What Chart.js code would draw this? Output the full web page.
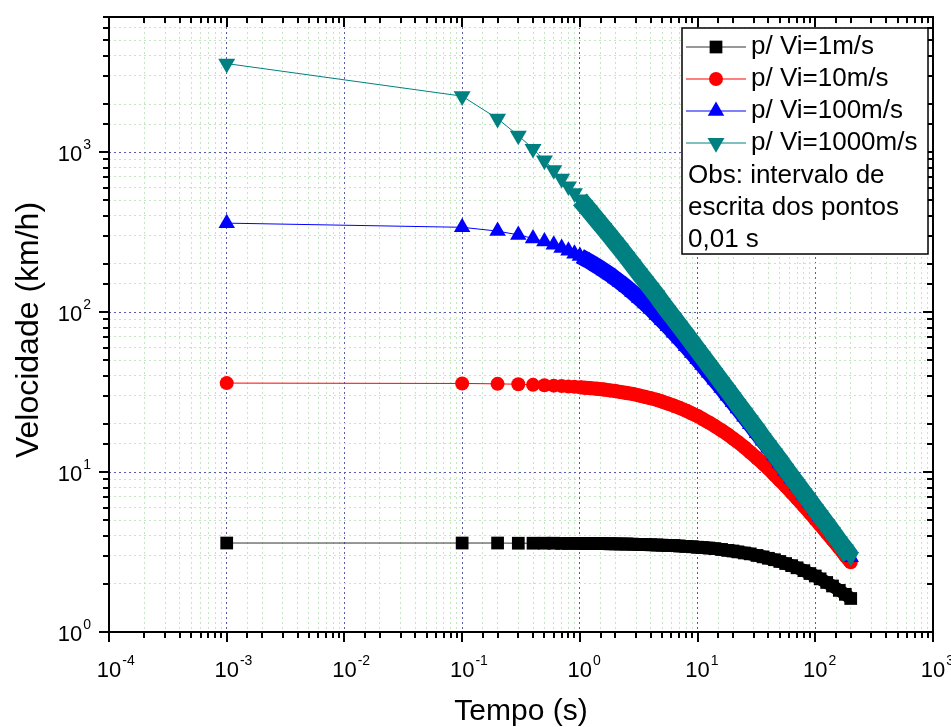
<!DOCTYPE html>
<html>
<head>
<meta charset="utf-8">
<script src="https://cdn.jsdelivr.net/npm/chart.js@4"></script>
<style>
  html, body { margin: 0; padding: 0; background: #fff; }
  #wrap { width: 951px; height: 727px; }
</style>
</head>
<body>
<div id="wrap"><canvas id="grafico" width="951" height="727"></canvas></div>
<script>
// Tempos (s) dos pontos marcados
const tempos = [0.001, 0.1, 0.2, 0.3, 0.4, 0.5, 0.6, 0.7, 0.8, 0.9,
    1, 1.1, 1.2, 1.4, 1.6, 1.8, 2, 2.2, 2.5, 2.8,
    3.2, 3.6, 4, 4.5, 5, 5.6, 6.3, 7, 8, 9,
    10, 11, 12.5, 14, 16, 18, 20, 22, 25, 28,
    32, 36, 40, 45, 50, 56, 63, 70, 80, 90,
    100, 110, 125, 140, 160, 180, 200];

// Velocidades (km/h)
const vel1 = [3.60, 3.60, 3.60, 3.59, 3.59, 3.59, 3.59, 3.58, 3.58, 3.58,
    3.58, 3.58, 3.57, 3.57, 3.57, 3.56, 3.56, 3.55, 3.55, 3.54,
    3.53, 3.52, 3.51, 3.50, 3.49, 3.48, 3.47, 3.45, 3.43, 3.41,
    3.39, 3.37, 3.35, 3.32, 3.28, 3.24, 3.21, 3.17, 3.12, 3.08,
    3.01, 2.95, 2.89, 2.83, 2.76, 2.68, 2.60, 2.52, 2.42, 2.32,
    2.24, 2.15, 2.04, 1.94, 1.82, 1.72, 1.62];
const vel10 = [36.0, 35.8, 35.6, 35.4, 35.1, 34.9, 34.7, 34.5, 34.3, 34.1,
    33.9, 33.7, 33.5, 33.2, 32.8, 32.4, 32.1, 31.7, 31.2, 30.8,
    30.1, 29.5, 28.9, 28.3, 27.6, 26.8, 26.0, 25.2, 24.2, 23.2,
    22.4, 21.5, 20.4, 19.4, 18.2, 17.2, 16.2, 15.4, 14.3, 13.3,
    12.2, 11.3, 10.5, 9.61, 8.89, 8.15, 7.43, 6.83, 6.12, 5.55,
    5.07, 4.67, 4.17, 3.77, 3.35, 3.00, 2.73];
const vel100 = [360, 339, 321, 304, 289, 276, 264, 252, 242, 232,
    224, 215, 208, 194, 182, 172, 162, 154, 143, 133,
    122, 113, 105, 96.1, 88.9, 81.5, 74.3, 68.3, 61.2, 55.5,
    50.7, 46.7, 41.7, 37.7, 33.5, 30.0, 27.3, 25.0, 22.2, 19.9,
    17.5, 15.7, 14.2, 12.7, 11.4, 10.2, 9.13, 8.24, 7.23, 6.44,
    5.81, 5.29, 4.66, 4.17, 3.65, 3.25, 2.93];
const vel1000 = [3580, 2240, 1620, 1270, 1050, 889, 773, 683, 612, 555,
    507, 467, 433, 377, 335, 301, 273, 250, 222, 199,
    175, 157, 142, 127, 114, 102, 91.3, 82.4, 72.3, 64.4,
    58.1, 52.9, 46.6, 41.7, 36.5, 32.5, 29.3, 26.6, 23.5, 21.0,
    18.4, 16.3, 14.7, 13.1, 11.8, 10.5, 9.34, 8.41, 7.36, 6.55,
    5.89, 5.36, 4.72, 4.21, 3.68, 3.28, 2.95];

const legendas = ['p/ Vi=1m/s', 'p/ Vi=10m/s', 'p/ Vi=100m/s', 'p/ Vi=1000m/s'];
const obsLinhas = ['Obs: intervalo de', 'escrita dos pontos', '0,01 s'];
const xLimites = [1e-4, 1e3];
const yLimites = [1, 7000];

const FONTE = '"Liberation Sans", Arial, sans-serif';

// a partir de 1 s os marcadores (a cada 0,01 s) se sobrepoem formando uma faixa
const series = [
    { dados: vel1, cor: '#000000', linha: '#333333', estilo: 'rect', raio: 9, rot: 0, faixa: 13 },
    { dados: vel10, cor: '#ff0000', linha: '#ff0000', estilo: 'circle', raio: 7, rot: 0, faixa: 14 },
    { dados: vel100, cor: '#0000ff', linha: '#0000ff', estilo: 'triangle', raio: 9.5, rot: 0, faixa: 16 },
    { dados: vel1000, cor: '#008080', linha: '#008080', estilo: 'triangle', raio: 9.8, rot: 180, faixa: 18 }
];

function ehDecada(v) {
    const l = Math.log10(v);
    return Math.abs(l - Math.round(l)) < 1e-6;
}

function desenhaMarcador(ctx, estilo, raio, rot, x, y, cor) {
    ctx.save();
    ctx.fillStyle = cor;
    ctx.beginPath();
    if (estilo === 'circle') {
        ctx.arc(x, y, raio, 0, Math.PI * 2);
    } else if (estilo === 'rect') {
        const s = raio * Math.SQRT1_2;
        ctx.rect(x - s, y - s, 2 * s, 2 * s);
    } else {
        let rad = rot * Math.PI / 180;
        for (let i = 0; i < 3; i++) {
            const px = x + Math.sin(rad) * raio;
            const py = y - Math.cos(rad) * raio;
            if (i === 0) ctx.moveTo(px, py); else ctx.lineTo(px, py);
            rad += 2 * Math.PI / 3;
        }
        ctx.closePath();
    }
    ctx.fill();
    ctx.restore();
}

// Moldura, marcas, rotulos 10^n, titulos e legenda
const molduraPlugin = {
    id: 'moldura',
    afterDraw(chart) {
        const { ctx, chartArea: a } = chart;
        const sx = chart.scales.x, sy = chart.scales.y;
        ctx.save();
        ctx.strokeStyle = '#000';
        ctx.lineWidth = 2;

        const traco = (x1, y1, x2, y2) => {
            ctx.beginPath(); ctx.moveTo(x1, y1); ctx.lineTo(x2, y2); ctx.stroke();
        };

        sx.ticks.forEach(t => {
            const px = Math.round(sx.getPixelForValue(t.value));
            const len = ehDecada(t.value) ? 10 : 6;
            traco(px, a.bottom, px, a.bottom + len);
            traco(px, a.top, px, a.top + len);
        });
        sy.ticks.forEach(t => {
            const py = Math.round(sy.getPixelForValue(t.value));
            const len = ehDecada(t.value) ? 10 : 6;
            traco(a.left - len, py, a.left, py);
            traco(a.right - len, py, a.right, py);
        });
        ctx.strokeRect(a.left, a.top, a.right - a.left, a.bottom - a.top);

        // rotulos do eixo x
        ctx.fillStyle = '#000';
        ctx.textBaseline = 'alphabetic';
        sx.ticks.filter(t => ehDecada(t.value)).forEach(t => {
            const px = sx.getPixelForValue(t.value);
            const ex = String(Math.round(Math.log10(t.value)));
            ctx.font = '22px ' + FONTE;
            ctx.textAlign = 'center';
            ctx.fillText('10', px, a.bottom + 45);
            const w = ctx.measureText('10').width;
            ctx.font = '14px ' + FONTE;
            ctx.textAlign = 'left';
            ctx.fillText(ex, px + w / 2 + 1, a.bottom + 33);
        });

        // rotulos do eixo y
        sy.ticks.filter(t => ehDecada(t.value)).forEach(t => {
            const py = sy.getPixelForValue(t.value);
            const ex = String(Math.round(Math.log10(t.value)));
            ctx.font = '14px ' + FONTE;
            const we = ctx.measureText(ex).width;
            ctx.textAlign = 'left';
            const xr = a.left - 18;
            ctx.fillText(ex, xr - we, py - 3);
            ctx.font = '22px ' + FONTE;
            ctx.textAlign = 'right';
            ctx.fillText('10', xr - we - 1, py + 9);
        });

        // titulos dos eixos
        ctx.textAlign = 'center';
        ctx.textBaseline = 'middle';
        ctx.font = '30px ' + FONTE;
        ctx.fillText('Tempo (s)', (a.left + a.right) / 2, 712);
        ctx.save();
        ctx.font = '32px ' + FONTE;
        ctx.translate(29, 330);
        ctx.rotate(-Math.PI / 2);
        ctx.fillText('Velocidade (km/h)', 0, 0);
        ctx.restore();

        // legenda
        const lx = 682, ly = 28, lw = 246, lh = 226;
        ctx.fillStyle = '#fff';
        ctx.fillRect(lx, ly, lw, lh);
        ctx.lineWidth = 1.5;
        ctx.strokeStyle = '#000';
        ctx.strokeRect(lx, ly, lw, lh);
        ctx.font = '26px ' + FONTE;
        ctx.textAlign = 'left';
        ctx.textBaseline = 'middle';
        series.forEach((s, i) => {
            const yy = 47 + i * 32;
            ctx.strokeStyle = s.linha;
            ctx.lineWidth = 1;
            ctx.beginPath(); ctx.moveTo(686, yy); ctx.lineTo(746, yy); ctx.stroke();
            desenhaMarcador(ctx, s.estilo, s.raio, s.rot, 716, yy, s.cor);
            ctx.fillStyle = '#000';
            ctx.fillText(legendas[i], 751, yy);
        });
        obsLinhas.forEach((t, i) => {
            ctx.fillText(t, 688, 176 + i * 32);
        });
        ctx.restore();
    }
};

const conjuntos = series.map((s, i) => ({
    label: legendas[i],
    data: tempos.map((t, j) => ({ x: t, y: s.dados[j] })),
    borderColor: s.linha,
    borderWidth: 1,
    borderJoinStyle: 'round',
    backgroundColor: s.cor,
    pointBackgroundColor: s.cor,
    pointBorderColor: s.cor,
    pointBorderWidth: 0,
    pointStyle: s.estilo,
    pointRadius: s.raio,
    pointRotation: s.rot,
    order: 3 - i,
    tension: 0,
    segment: {
        borderWidth: c => c.p0.parsed.x >= 1 ? s.faixa : 1,
        borderColor: c => c.p0.parsed.x >= 1 ? s.cor : s.linha
    }
}));

const corGrade = c => (c.tick && ehDecada(c.tick.value)) ? '#5a5aa8' : '#c4e6c4';

new Chart(document.getElementById('grafico'), {
    type: 'line',
    data: { datasets: conjuntos },
    options: {
        responsive: false,
        animation: false,
        events: [],
        layout: { padding: { left: 109, right: 18, top: 17, bottom: 95 } },
        plugins: { legend: { display: false }, tooltip: { enabled: false } },
        scales: {
            x: {
                type: 'logarithmic',
                min: xLimites[0],
                max: xLimites[1],
                ticks: { display: false },
                grid: { color: corGrade, lineWidth: 1, drawTicks: false },
                border: { display: false, dash: [2, 3] }
            },
            y: {
                type: 'logarithmic',
                min: yLimites[0],
                max: yLimites[1],
                ticks: { display: false },
                grid: { color: corGrade, lineWidth: 1, drawTicks: false },
                border: { display: false, dash: [2, 3] }
            }
        }
    },
    plugins: [molduraPlugin]
});
</script>
</body>
</html>
